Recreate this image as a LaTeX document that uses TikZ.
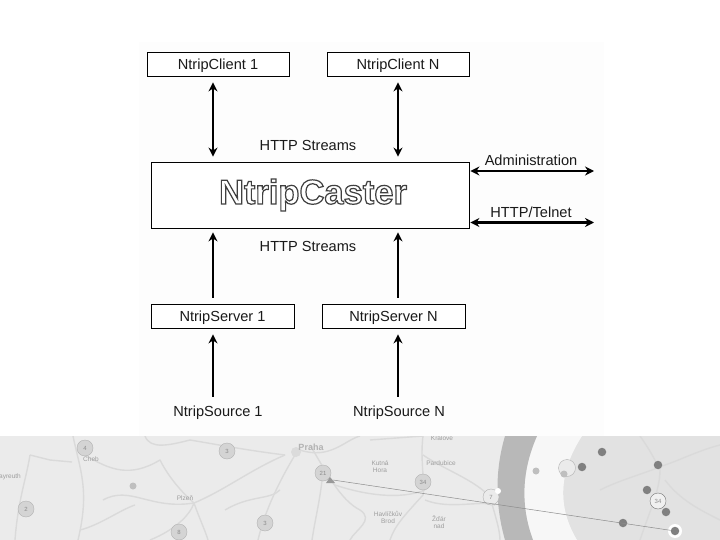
\documentclass[tikz,border=0pt]{standalone}
\usepackage{fontspec}
\setmainfont{Liberation Sans}
\newfontfamily\castfont[FakeBold=3.5]{Liberation Sans Bold}
\usetikzlibrary{arrows.meta}
\definecolor{mapbg}{HTML}{EBEBEB}
\definecolor{roadc}{HTML}{DADADA}
\definecolor{bandc}{HTML}{B8B8B8}
\definecolor{zonec}{HTML}{E2E2E2}
\definecolor{paperc}{HTML}{FDFDFD}
\definecolor{inkc}{HTML}{1A1A1A}
\tikzset{
  labelbox/.style={draw=black,line width=0.8pt,fill=white,minimum height=24pt,inner sep=0pt,text height=10.5pt,text depth=0pt,font=\fontsize{14.6}{16}\selectfont,text=inkc},
  tag/.style={inner sep=0pt,text height=10.5pt,text depth=0pt,font=\fontsize{14.6}{16}\selectfont,text=inkc},
  both/.style={line width=2.4pt,black,{Stealth[length=9pt,width=9pt]}-{Stealth[length=9pt,width=9pt]}},
  single/.style={line width=2.4pt,black,-{Stealth[length=9pt,width=9pt]}},
  road/.style={roadc,line width=1.4pt,line join=round},
  town/.style={inner sep=0pt,text=black!38,font=\fontsize{6.5}{7}\selectfont},
  cluster/.style={circle,draw=black!30,fill=black!17,minimum size=16pt,inner sep=0pt,text=black!45,font=\fontsize{6}{7}\selectfont},
  dotlight/.style={circle,fill=black!25,minimum size=7pt,inner sep=0pt},
  dotdark/.style={circle,fill=black!50,minimum size=8.5pt,inner sep=0pt},
}
\begin{document}
\begin{tikzpicture}[x=1pt,y=-1pt]
\useasboundingbox (0,0) rectangle (720,540);
\fill[white] (0,0) rectangle (720,540);
\fill[paperc] (139,42) rectangle (604,436);
% map strip
\begin{scope}
\clip (0,436) rectangle (720,540);
\fill[mapbg] (0,436) rectangle (720,540);
\fill[zonec] (582,436) .. controls (560,470) and (556,505) .. (577,540) -- (720,540) -- (720,436) -- cycle;
\fill[black!3] (537,436) .. controls (522,470) and (520,505) .. (533,540) -- (577,540) .. controls (556,505) and (560,470) .. (582,436) -- cycle;
\fill[bandc] (505,436) .. controls (495,470) and (495,505) .. (505,540) -- (533,540) .. controls (520,505) and (522,470) .. (537,436) -- cycle;
\draw[road] (30,455) .. controls (26,480) and (18,500) .. (15,540);
\draw[road] (73,436) .. controls (80,470) and (90,490) .. (78,540);
\draw[road] (30,455) -- (50,460) -- (72,462);
\draw[road] (85,455) .. controls (110,470) and (130,478) .. (160,460) .. controls (170,480) and (185,495) .. (194,503);
\draw[road] (145,436) .. controls (150,450) and (170,445) .. (190,440) .. controls (220,445) and (245,450) .. (285,455);
\draw[road] (103,500) .. controls (130,485) and (150,510) .. (194,503) .. controls (225,490) and (250,470) .. (285,455);
\draw[road] (194,503) .. controls (190,515) and (175,530) .. (150,540);
\draw[road] (194,503) .. controls (200,520) and (205,530) .. (208,540);
\draw[road] (80,530) .. controls (100,525) and (120,510) .. (135,505);
\draw[road] (295,455) .. controls (280,480) and (265,510) .. (258,540);
\draw[road] (225,510) .. controls (250,495) and (270,500) .. (280,490);
\draw[road] (300,450) .. controls (330,460) and (345,440) .. (360,436);
\draw[road] (310,445) .. controls (325,470) and (340,500) .. (360,510) .. controls (375,520) and (355,530) .. (350,540);
\draw[road] (322,480) .. controls (320,500) and (315,520) .. (312,540);
\draw[road] (335,485) .. controls (365,495) and (400,500) .. (425,490);
\draw[road] (423,436) .. controls (420,460) and (425,480) .. (423,495) .. controls (405,515) and (395,525) .. (390,540);
\draw[road] (423,455) .. controls (445,470) and (475,480) .. (490,497);
\draw[road] (490,497) .. controls (495,515) and (500,530) .. (500,540);
\draw[road] (370,440) -- (423,436);
\draw[road] (425,500) .. controls (450,510) and (480,500) .. (495,505);
\draw[road] (600,490) .. controls (620,480) and (640,475) .. (665,465) .. controls (680,460) and (700,450) .. (720,445);
\draw[road] (640,436) .. controls (650,450) and (655,460) .. (660,470) .. controls (660,490) and (650,510) .. (640,540);
\draw[road] (665,480) .. controls (680,500) and (700,510) .. (720,520);
\fill[black!14] (296,452) circle[radius=5pt];
\node[inner sep=0pt,text=black!30,font=\bfseries\fontsize{9}{10}\selectfont] (praha) at (311,447) {Praha};
\node[town] (cheb) at (91,459) {Cheb};
\node[town] (bayr) at (10,477) {ayreuth};
\node[town] (plz) at (185,498) {Plzeň};
\node[town] (hk) at (442,438) {Králové};
\node[town] (pard) at (441,463) {Pardubice};
\node[town,align=center] (kut) at (380,467) {Kutná\\Hora};
\node[town,align=center] (hav) at (388,517) {Havlíčkův\\Brod};
\node[town,align=center] (zdar) at (439,522) {Žďár\\nad};
% clusters and dots
\node[cluster] (m1) at (85,448) {4};
\node[cluster] (m2) at (227,451) {3};
\node[cluster] (m3) at (323,473) {21};
\node[dotlight] (m4) at (133,486) {};
\node[cluster] (m5) at (26,509) {2};
\node[cluster] (m6) at (179,532) {8};
\node[cluster] (m7) at (265,523) {3};
\node[cluster] (m8) at (423,482) {34};
\node[cluster,fill=black!8] (m9) at (491,497) {7};
\node[circle,fill=white,minimum size=6pt,inner sep=0pt] (m10) at (498,491) {};
\node[dotlight] (m11) at (536,471) {};
\node[cluster,fill=black!8,minimum size=17pt] (m12) at (567,468) {};
\node[dotlight] (m13) at (564,474) {};
\node[dotdark] (m14) at (582,467) {};
\node[dotdark] (m15) at (602,452) {};
\node[dotdark] (m16) at (658,465) {};
\node[dotdark] (m17) at (647,490) {};
\node[cluster,fill=black!6,draw=black!55] (m18) at (658,501) {34};
\node[dotdark] (m19) at (666,512) {};
\node[dotdark] (m20) at (623,523) {};
\node[circle,fill=white,minimum size=14pt,inner sep=0pt] (halo) at (675,531) {};
\node[dotdark] (m21) at (675,531) {};
\fill[black!40] (326,483) -- (330,477) -- (335,483) -- cycle;
\coordinate (trail) at (333,480);
\draw[black!45,line width=0.5pt] (trail) -- (m21);
\end{scope}
% diagram
\node[labelbox,minimum width=142pt] (c1) at (218,64) {NtripClient 1};
\node[labelbox,minimum width=142pt] (cn) at (398,64) {NtripClient N};
\node[draw=black,line width=0.8pt,fill=white,minimum width=318pt,minimum height=66pt,inner sep=0pt] (caster) at (310,195) {};
\node[inner sep=0pt,text=white,font=\castfont\fontsize{34.5}{36}\selectfont] (name) at (313,195) {\special{pdf:code 0.25 G}NtripCaster};
\node[labelbox,minimum width=143pt] (s1) at (222.5,316) {NtripServer 1};
\node[labelbox,minimum width=143pt] (sn) at (393.5,316) {NtripServer N};
\node[tag] (so1) at (218,411) {NtripSource 1};
\node[tag] (son) at (399,411) {NtripSource N};
\node[tag] (h1) at (308,145) {HTTP Streams};
\node[tag] (h2) at (308,246) {HTTP Streams};
\node[tag] (adm) at (531,160) {Administration};
\node[tag] (tel) at (531,212) {HTTP/Telnet};
\coordinate (adme) at (594,171);
\coordinate (tele) at (594,222.5);
\draw[both] ([xshift=-5pt,yshift=-6pt]c1.south) -- ([xshift=-97pt,yshift=5pt]caster.north);
\draw[both] ([yshift=-6pt]cn.south) -- ([xshift=88pt,yshift=5pt]caster.north);
\draw[both] ([xshift=1pt]caster.east |- adme) -- (adme);
\draw[both] ([xshift=1pt]caster.east |- tele) -- (tele);
\draw[single] ([xshift=-9.5pt,yshift=6pt]s1.north) -- ([xshift=-97pt,yshift=-4pt]caster.south);
\draw[single] ([xshift=4.5pt,yshift=6pt]sn.north) -- ([xshift=88pt,yshift=-4pt]caster.south);
\draw[single] ([xshift=-5pt,yshift=9pt]so1.north) -- ([xshift=-9.5pt,yshift=-6pt]s1.south);
\draw[single] ([yshift=9pt,xshift=-1pt]son.north) -- ([xshift=4.5pt,yshift=-6pt]sn.south);
\end{tikzpicture}
\end{document}
